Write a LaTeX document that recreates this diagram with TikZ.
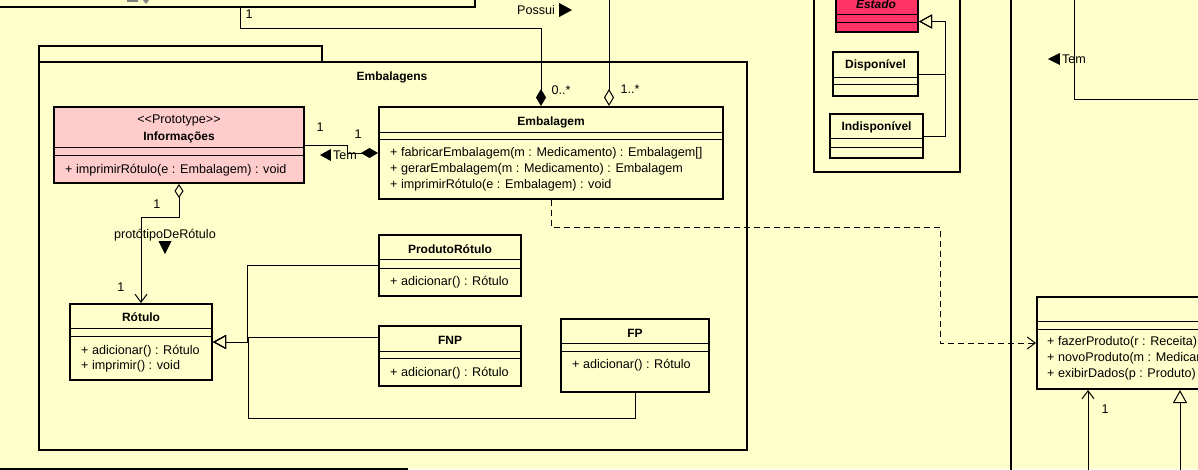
\documentclass[tikz,border=0pt]{standalone}
\usepackage{fontspec}
\setmainfont{Liberation Sans}
\usetikzlibrary{arrows.meta}
\definecolor{bgyellow}{RGB}{255,255,204}
\definecolor{protopink}{RGB}{255,204,204}
\definecolor{estadored}{RGB}{255,51,102}

\begin{document}
\begin{tikzpicture}[x=1pt,y=-1pt,
  every node/.style={font=\fontsize{12.6}{16}\selectfont, inner sep=0pt},
  umlclass/.style={draw, line width=2pt, fill=bgyellow},
  pkg/.style={draw, line width=2pt},
  sepline/.style={line width=1pt},
  conn/.style={line width=1pt},
  cname/.style={font=\fontsize{12}{16}\selectfont\bfseries},
  meth/.style={anchor=west, align=left},
  comp/.style={-{Diamond[length=17pt,width=10pt]}},
  aggr/.style={-{Diamond[open,length=17pt,width=10pt]}},
  gen/.style={-{Triangle[open,length=13pt,width=14pt]}},
  navi/.style={-{Straight Barb[length=8pt,width=12pt]}},
  dep/.style={dash pattern=on 6pt off 4pt, -{Straight Barb[length=8pt,width=12pt]}}]
  \useasboundingbox (0,0) rectangle (1198,469);
  \fill[bgyellow] (0,0) rectangle (1198,469);
  \clip (0,0) rectangle (1198,469);

  \node[pkg, minimum width=520pt, minimum height=60pt, anchor=south east] (topcls) at (476,8) {};
  \fill[gray] (127,0) rectangle (138,2);
  \fill[gray] (143,0) -- (149,0) -- (146,4) -- cycle;
  \node[pkg, minimum width=450pt, minimum height=60pt, anchor=north east] (botcls) at (408,468) {};

  \node[pkg, minimum width=283pt, minimum height=16pt, anchor=north west] (embtab) at (38,45) {};
  \node[pkg, minimum width=708pt, minimum height=388pt, anchor=north west] (embpkg) at (38,61) {};
  \node[cname] (embpkgname) at (392,77) {Embalagens};

  \node[umlclass, fill=protopink, minimum width=250pt, minimum height=76pt] (info) at (179,145) {};
  \node (infost) at (179,120) {\textless\kern0pt\textless Prototype\textgreater\kern0pt\textgreater};
  \node[cname] (infoname) at (179,137) {Informações};
  \draw[sepline] (info.west |- 0,147) -- (info.east |- 0,147);
  \draw[sepline] (info.west |- 0,155) -- (info.east |- 0,155);
  \node[meth] (infom) at (65,170) {+ imprimirRótulo(e : Embalagem) : void};

  \node[umlclass, minimum width=344pt, minimum height=92pt] (emb) at (551,153) {};
  \node[cname] (embname) at (551,122) {Embalagem};
  \draw[sepline] (emb.west |- 0,132) -- (emb.east |- 0,132);
  \draw[sepline] (emb.west |- 0,139) -- (emb.east |- 0,139);
  \node[meth] (embm) at (390,169) {+ fabricarEmbalagem(m : Medicamento) : Embalagem[]\\+ gerarEmbalagem(m : Medicamento) : Embalagem\\+ imprimirRótulo(e : Embalagem) : void};

  \node[umlclass, minimum width=142pt, minimum height=76pt] (rot) at (141,342) {};
  \node[cname] (rotname) at (141,317) {Rótulo};
  \draw[sepline] (rot.west |- 0,328) -- (rot.east |- 0,328);
  \draw[sepline] (rot.west |- 0,336) -- (rot.east |- 0,336);
  \node[meth] (rotm) at (81,358.5) {+ adicionar() : Rótulo\\[-1pt]+ imprimir() : void};

  \node[umlclass, minimum width=142pt, minimum height=61pt] (prodrot) at (450,265.5) {};
  \node[cname] (prodrotname) at (450,249) {ProdutoRótulo};
  \draw[sepline] (prodrot.west |- 0,259) -- (prodrot.east |- 0,259);
  \draw[sepline] (prodrot.west |- 0,268) -- (prodrot.east |- 0,268);
  \node[meth] (prodrotm) at (390,282) {+ adicionar() : Rótulo};

  \node[umlclass, minimum width=142pt, minimum height=60pt] (fnp) at (450,356) {};
  \node[cname] (fnpname) at (450,340) {FNP};
  \draw[sepline] (fnp.west |- 0,351) -- (fnp.east |- 0,351);
  \draw[sepline] (fnp.west |- 0,358) -- (fnp.east |- 0,358);
  \node[meth] (fnpm) at (390,373) {+ adicionar() : Rótulo};

  \node[umlclass, minimum width=148pt, minimum height=73pt] (fp) at (635,355.5) {};
  \node[cname] (fpname) at (635,333) {FP};
  \draw[sepline] (fp.west |- 0,343) -- (fp.east |- 0,343);
  \draw[sepline] (fp.west |- 0,351) -- (fp.east |- 0,351);
  \node[meth] (fpm) at (572,365) {+ adicionar() : Rótulo};

  \node[pkg, minimum width=146pt, minimum height=200pt, anchor=south west] (estpkg) at (813,173) {};
  \node[umlclass, fill=estadored, minimum width=82pt, minimum height=53pt, anchor=south west] (est) at (835,33) {};
  \node[cname] (estname) at (876,4) {\itshape Estado};
  \draw[sepline] (est.west |- 0,14) -- (est.east |- 0,14);
  \draw[sepline] (est.west |- 0,22) -- (est.east |- 0,22);
  \node[umlclass, minimum width=85pt, minimum height=44pt] (disp) at (875.5,74) {};
  \node[cname] (dispname) at (875.5,65) {Disponível};
  \draw[sepline] (disp.west |- 0,77) -- (disp.east |- 0,77);
  \draw[sepline] (disp.west |- 0,84) -- (disp.east |- 0,84);
  \node[umlclass, minimum width=93pt, minimum height=44pt] (indisp) at (876.5,136) {};
  \node[cname] (indispname) at (876.5,127) {Indisponível};
  \draw[sepline] (indisp.west |- 0,138) -- (indisp.east |- 0,138);
  \draw[sepline] (indisp.west |- 0,147) -- (indisp.east |- 0,147);

  \node[pkg, minimum width=300pt, minimum height=500pt, anchor=north west] (rpkg) at (1010,-20) {};
  \node[umlclass, minimum width=300pt, minimum height=92pt, anchor=north west] (prod) at (1036,296) {};
  \draw[sepline] (prod.west |- 0,321) -- (prod.east |- 0,321);
  \draw[sepline] (prod.west |- 0,329) -- (prod.east |- 0,329);
  \node[meth] (prodm) at (1047,358.5) {+ fazerProduto(r : Receita)\\+ novoProduto(m : Medicamento)\\+ exibirDados(p : Produto)};

  \draw[conn, comp] ([xshift=-236pt]topcls.south east) -- ++(0,20) -| ([xshift=-10pt]emb.north);
  \node (possui) at (536,10) {Possui};
  \fill ([xshift=4pt,yshift=7pt]possui.east) -- ++(0,14) -- ++(13,-7) -- cycle;
  \node (m1) at (249,14) {1};
  \node (m2) at (561,90) {0..*};

  \coordinate (aggtop) at (609,-5);
  \draw[conn, aggr] (aggtop) -- (aggtop |- emb.north);
  \node (m3) at (630,89) {1..*};

  \draw[conn, comp] (info.east) -- ++(42,0) |- (emb.west);
  \node (tem1) at (345,155) {Tem};
  \fill ([xshift=-2pt,yshift=6pt]tem1.west) -- ++(0,12) -- ++(-11,-6) -- cycle;
  \node (m4) at (320,127) {1};
  \node (m5) at (358,134) {1};

  \draw[conn, {Diamond[open,length=14pt,width=9pt]}-{Straight Barb[length=8pt,width=12pt]}] (info.south) -- ++(0,33) -| (rot.north);
  \node (m6) at (157,204) {1};
  \node (protolbl) at (165,235) {protótipoDeRótulo};
  \fill ([xshift=-6.5pt]protolbl.south) -- ++(13,0) -- ++(-6.5,13) -- cycle;
  \node (m7) at (121,287) {1};

  \draw[conn, gen] (prodrot.west) -- ++(-131,0) |- (rot.east);
  \draw[conn, gen] ([yshift=19pt]fnp.west) -- ++(-130,0) |- (rot.east);
  \draw[conn, gen] (fp.south) |- ++(-387,25) |- (rot.east);

  \draw[conn, gen] (disp.east) -- ++(26,0) |- ([yshift=-16pt]est.east);
  \draw[conn, gen] (indisp.east) -- ++(21,0) |- ([yshift=-16pt]est.east);

  \draw[conn, dep] (emb.south) |- ++(389,27) |- (prod.west);

  \coordinate (temtop) at (1074,-5);
  \coordinate (temend) at (1210,99);
  \draw[conn] (temtop) |- (temend);
  \node (tem2) at (1074,59) {Tem};
  \fill ([xshift=-2pt,yshift=6pt]tem2.west) -- ++(0,12) -- ++(-12,-6) -- cycle;

  \coordinate (navbot) at (1088,480);
  \draw[conn, navi] (navbot) -- (navbot |- prod.south);
  \node (m8) at (1105,409) {1};
  \coordinate (genbot) at (1180,480);
  \draw[conn, gen] (genbot) -- (genbot |- prod.south);
\end{tikzpicture}
\end{document}
